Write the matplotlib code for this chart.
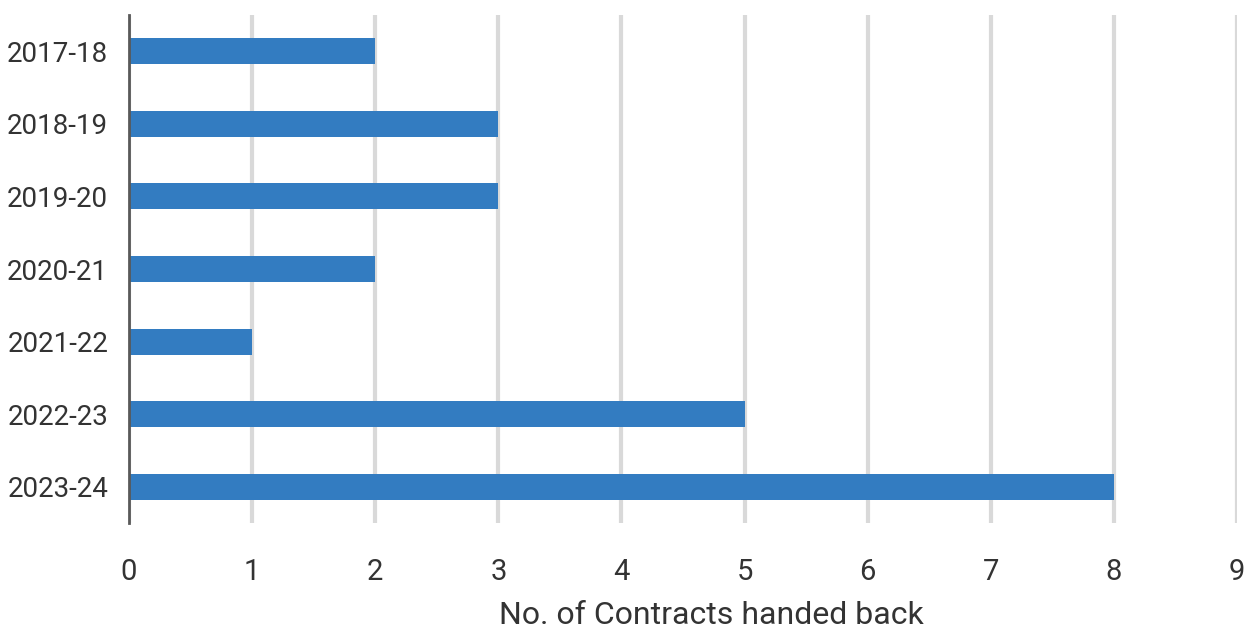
import matplotlib
matplotlib.use("Agg")
import matplotlib.pyplot as plt

years = ["2017-18", "2018-19", "2019-20", "2020-21", "2021-22", "2022-23", "2023-24"]
contracts_handed_back = [2, 3, 3, 2, 1, 5, 8]
x_ticks = list(range(0, 10))

plt.rcParams["font.family"] = ["Roboto", "DejaVu Sans"]
text_color = "#333333"

fig = plt.figure(figsize=(12.48, 6.3), dpi=100)
W, H = 1248, 630
left, right, top, bottom = 129, 1237, 15, 523
ax = fig.add_axes([left / W, 1 - bottom / H, (right - left) / W, (bottom - top) / H])

pos = list(range(len(years)))
ax.barh(pos, contracts_handed_back, height=0.36, color="#337CC1", zorder=3)

ax.set_xlim(0, 9)
ax.set_ylim(len(years) - 0.5, -0.5)
ax.set_yticks(pos)
ax.set_yticklabels(years)
ax.set_xticks(x_ticks)

ax.grid(axis="x", color="#D9D9D9", linewidth=3, zorder=0)
ax.grid(axis="y", visible=False)
for s in ["top", "right", "bottom"]:
    ax.spines[s].set_visible(False)
ax.spines["left"].set_color("#595959")
ax.spines["left"].set_linewidth(2)
ax.spines["left"].set_zorder(4)

ax.tick_params(axis="both", length=0, labelcolor=text_color)
ax.tick_params(axis="x", pad=25, labelsize=21)
ax.tick_params(axis="y", pad=15, labelsize=20)

fig.text(711 / W, 1 - 616 / H, "No. of Contracts handed back", ha="center", va="center",
         fontsize=23, color=text_color)

fig.savefig("out.png", dpi=100, facecolor="white")
